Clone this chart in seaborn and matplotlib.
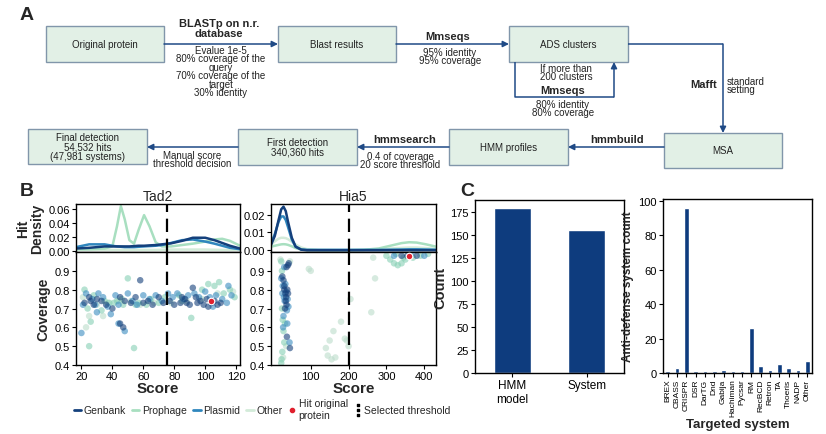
import numpy as np
import pandas as pd
import matplotlib
matplotlib.use("Agg")
import matplotlib.pyplot as plt
from matplotlib.patches import Rectangle
from matplotlib.lines import Line2D
import seaborn as sns

sns.set_theme(style="ticks")
plt.rcParams['font.family'] = ['Liberation Sans', 'DejaVu Sans']

# ---------------- data ----------------
SOURCES = ["Genbank", "Prophage", "Plasmid", "Other"]
PALETTE = {"Genbank": "#14407c", "Prophage": "#a8dfc0", "Plasmid": "#2f86bd", "Other": "#d3ebd9"}
PT_PALETTE = {"Genbank": "#143f7a", "Prophage": "#86d0b4", "Plasmid": "#3a8cc0", "Other": "#bcdccb"}

# Tad2 hit density
TAD2_X = [16.5, 25, 35, 40, 43, 45.5, 48, 51, 54, 57, 60.5, 64, 68, 72, 78, 85, 92, 100, 106, 111, 116, 122.5]
TAD2_GENBANK = [0.003, 0.004, 0.006, 0.006, 0.006, 0.006, 0.006, 0.006, 0.0065, 0.007, 0.007, 0.0075, 0.008, 0.009,
                0.0105, 0.014, 0.0185, 0.0185, 0.015, 0.011, 0.007, 0.003]
TAD2_PROPHAGE = [0.002, 0.002, 0.003, 0.006, 0.035, 0.064, 0.045, 0.015, 0.010, 0.030, 0.051, 0.035, 0.012, 0.006,
                 0.006, 0.008, 0.010, 0.013, 0.016, 0.017, 0.014, 0.007]
TAD2_PLASMID = [0.005, 0.009, 0.009, 0.007, 0.006, 0.0055, 0.005, 0.005, 0.005, 0.0055, 0.006, 0.0065, 0.007, 0.008,
                0.011, 0.015, 0.016, 0.013, 0.010, 0.007, 0.004, 0.002]
TAD2_OTHER = [0.001, 0.001, 0.001, 0.001, 0.001, 0.001, 0.001, 0.001, 0.001, 0.001, 0.001, 0.001, 0.001, 0.0012,
              0.0015, 0.0015, 0.0015, 0.0015, 0.0012, 0.001, 0.001, 0.001]

# Hia5 hit density
HIA5_X = [-5, 5, 15, 22, 28, 34, 40, 50, 60, 75, 90, 120, 160, 200, 240, 280, 310, 340, 360, 380, 405, 431]
HIA5_GENBANK = [0.003, 0.008, 0.017, 0.023, 0.0245, 0.022, 0.016, 0.007, 0.002, 0.0003, 0.0, 0.0, 0.0, 0.0, 0.0,
                0.0, 0.0, 0.0, 0.0, 0.0, 0.0, 0.0]
HIA5_PLASMID = [0.004, 0.009, 0.016, 0.019, 0.019, 0.017, 0.013, 0.006, 0.002, 0.0004, 0.0002, 0.0002, 0.0002,
                0.0002, 0.0002, 0.0002, 0.0003, 0.0004, 0.0005, 0.0005, 0.0004, 0.0003]
HIA5_PROPHAGE = [0.002, 0.0025, 0.003, 0.0033, 0.0034, 0.0033, 0.003, 0.0022, 0.0012, 0.0004, 0.0001, 0.0, 0.0,
                 0.0, 0.0002, 0.001, 0.0025, 0.004, 0.0045, 0.0043, 0.0033, 0.002]
HIA5_OTHER = [0.003, 0.005, 0.0065, 0.007, 0.007, 0.0068, 0.0062, 0.0048, 0.0032, 0.0015, 0.0006, 0.0002, 0.0001,
              0.0001, 0.0002, 0.0005, 0.001, 0.0013, 0.0015, 0.0015, 0.0012, 0.0008]

# Tad2 hits (score, coverage)
TAD2_PTS_GENBANK = [(22, 0.73), (25, 0.76), (28, 0.72), (30, 0.75), (33, 0.74), (36, 0.72), (40, 0.70), (45, 0.76),
                    (48, 0.74), (52, 0.73), (55, 0.76), (58, 0.85), (60, 0.73), (63, 0.74), (66, 0.72), (70, 0.76),
                    (73, 0.73), (77, 0.74), (80, 0.72), (84, 0.73), (87, 0.75), (90, 0.72), (92, 0.81), (95, 0.73),
                    (97, 0.74), (99, 0.72), (101, 0.75), (104, 0.73), (106, 0.74), (108, 0.72), (110, 0.73),
                    (45, 0.62), (47, 0.60), (26, 0.74), (85, 0.76), (88, 0.73), (94, 0.76), (102, 0.71)]
TAD2_PTS_PLASMID = [(21, 0.72), (23, 0.78), (27, 0.75), (29, 0.72), (31, 0.78), (34, 0.76), (37, 0.71), (39, 0.67),
                    (42, 0.77), (44, 0.72), (50, 0.78), (53, 0.74), (56, 0.72), (60, 0.77), (64, 0.75), (68, 0.77),
                    (72, 0.74), (76, 0.78), (79, 0.76), (82, 0.78), (86, 0.75), (89, 0.77), (93, 0.78), (96, 0.76),
                    (100, 0.79), (103, 0.76), (107, 0.77), (111, 0.75), (114, 0.73), (117, 0.77), (44, 0.62),
                    (20, 0.57), (30, 0.68), (48, 0.58), (115, 0.82), (105, 0.71)]
TAD2_PTS_PROPHAGE = [(22, 0.80), (24, 0.70), (26, 0.63), (28, 0.77), (35, 0.74), (41, 0.73), (43, 0.74), (46, 0.75),
                     (47, 0.72), (50, 0.86), (54, 0.49), (57, 0.73), (62, 0.72), (65, 0.75), (70, 0.73), (74, 0.76),
                     (83, 0.77), (91, 0.65), (98, 0.80), (102, 0.83), (106, 0.82), (109, 0.84), (112, 0.78),
                     (116, 0.80), (119, 0.76), (25, 0.50), (33, 0.69), (38, 0.73), (55, 0.72), (85, 0.74)]
TAD2_PTS_OTHER = [(21, 0.76), (23, 0.60), (25, 0.66), (30, 0.72), (37, 0.73), (44, 0.74), (52, 0.74), (58, 0.72),
                  (67, 0.73), (78, 0.73), (88, 0.74), (98, 0.75), (108, 0.78), (118, 0.79), (34, 0.66)]
TAD2_ORIGINAL = (104, 0.74)

# Hia5 hits
HIA5_PTS_GENBANK = [(25, 0.87), (28, 0.85), (30, 0.80), (33, 0.78), (35, 0.76), (38, 0.80), (40, 0.93), (42, 0.94),
                    (36, 0.72), (32, 0.70), (40, 0.78), (30, 0.82), (34, 0.74), (45, 0.49), (37, 0.55), (36, 0.92),
                    (355, 0.98), (380, 0.98), (340, 0.98)]
HIA5_PTS_PLASMID = [(22, 0.86), (26, 0.82), (29, 0.76), (31, 0.74), (33, 0.83), (35, 0.79), (37, 0.69), (39, 0.75),
                    (41, 0.71), (28, 0.66), (25, 0.78), (30, 0.92), (44, 0.52), (38, 0.62), (27, 0.60),
                    (320, 0.98), (365, 0.99), (400, 0.98)]
HIA5_PTS_PROPHAGE = [(22, 0.95), (24, 0.90), (26, 0.64), (28, 0.58), (30, 0.52), (25, 0.47), (23, 0.43), (22, 0.41),
                     (32, 0.62), (24, 0.70), (320, 0.94), (330, 0.93), (340, 0.94), (310, 0.96), (345, 0.97),
                     (370, 0.97), (390, 0.98), (410, 0.99), (300, 0.98), (325, 0.99), (350, 0.96)]
HIA5_PTS_OTHER = [(20, 0.96), (45, 0.95), (95, 0.91), (100, 0.90), (140, 0.49), (145, 0.45), (160, 0.58),
                  (150, 0.53), (165, 0.44), (180, 0.63), (195, 0.53), (200, 0.50), (205, 0.75), (260, 0.68),
                  (265, 0.97), (270, 0.86), (155, 0.43), (190, 0.54), (27, 0.44), (35, 0.50)]
HIA5_ORIGINAL = (360, 0.98)

THRESH_TAD2 = 75
THRESH_HIA5 = 200

# Panel C
C_CATS = ["HMM\nmodel", "System"]
C_COUNTS = [179, 155]
SYS_CATS = ["BREX", "CBASS", "CRISPR", "DSR", "DarTG", "Dnd", "Gabija", "Hachiman", "Pycsar", "RM", "RecBCD",
            "Retron", "TA", "Thoeris", "NADP", "Other"]
SYS_COUNTS = [1, 3, 96, 1, 1, 1, 1.5, 1, 1, 26, 4, 2, 5, 3, 2, 7]

# ---------------- figure ----------------
W, H = 826, 435
fig = plt.figure(figsize=(W / 100, H / 100), dpi=100)


def rect(x0, y0, x1, y1):
    return [x0 / W, 1 - y1 / H, (x1 - x0) / W, (y1 - y0) / H]


ov = fig.add_axes([0, 0, 1, 1])
ov.set_xlim(0, W)
ov.set_ylim(H, 0)
ov.axis("off")
ov.patch.set_visible(False)

# ---------- Panel A (flowchart) ----------
BOX_FC = "#e2f0e6"
BOX_EC = "#8196aa"
ARW = "#1f4a86"
boxes = [
    ((46, 27, 164, 63), "Original protein"),
    ((278, 27, 396, 63), "Blast results"),
    ((509, 27, 628, 63), "ADS clusters"),
    ((664, 134, 782, 169), "MSA"),
    ((449, 130, 568, 166), "HMM profiles"),
    ((238, 130, 357, 166), "First detection\n340,360 hits"),
    ((28, 130, 147, 165), "Final detection\n54,532 hits\n(47,981 systems)"),
]
for (x0, y0, x1, y1), label in boxes:
    ov.add_patch(Rectangle((x0, y0), x1 - x0, y1 - y0, fc=BOX_FC, ec=BOX_EC, lw=1.0))
    ov.text((x0 + x1) / 2, (y0 + y1) / 2, label, ha="center", va="center", fontsize=7, linespacing=0.95,
            color="#222222")


def arrow(pts):
    xs = [p[0] for p in pts]
    ys = [p[1] for p in pts]
    if len(pts) > 2:
        ov.plot(xs[:-1], ys[:-1], color=ARW, lw=1.1, solid_capstyle="butt")
    ov.annotate("", xy=pts[-1], xytext=pts[-2],
                arrowprops=dict(arrowstyle="-|>", color=ARW, lw=1.1, mutation_scale=9, shrinkA=0, shrinkB=0))


arrow([(164, 45), (278, 45)])
arrow([(396, 45), (509, 45)])
arrow([(628, 45), (723, 45), (723, 134)])
arrow([(515, 63), (515, 98), (614, 98), (614, 63)])
arrow([(664, 148), (568, 148)])
arrow([(449, 148), (357, 148)])
arrow([(238, 148), (147, 148)])

small = dict(fontsize=7, color="#222222", linespacing=0.8)
ov.text(219, 29, "BLASTp on n.r.\ndatabase", ha="center", va="center", fontsize=8, fontweight="bold",
        linespacing=0.95)
ov.text(221, 72, "Evalue 1e-5\n80% coverage of the\nquery\n70% coverage of the\ntarget\n30% identity",
        ha="center", va="center", **small)
ov.text(448, 37, "Mmseqs", ha="center", va="center", fontsize=8, fontweight="bold")
ov.text(450, 57, "95% identity\n95% coverage", ha="center", va="center", **small)
ov.text(566, 73, "If more than\n200 clusters", ha="center", va="center", **small)
ov.text(563, 91, "Mmseqs", ha="center", va="center", fontsize=8, fontweight="bold")
ov.text(563, 109, "80% identity\n80% coverage", ha="center", va="center", **small)
ov.text(704, 85, "Mafft", ha="center", va="center", fontsize=8, fontweight="bold")
ov.text(727, 86, "standard\nsetting", ha="left", va="center", **small)
ov.text(617, 140, "hmmbuild", ha="center", va="center", fontsize=8, fontweight="bold")
ov.text(405, 140, "hmmsearch", ha="center", va="center", fontsize=8, fontweight="bold")
ov.text(400, 161, "0.4 of coverage\n20 score threshold", ha="center", va="center", **small)
ov.text(192, 160, "Manual score\nthreshold decision", ha="center", va="center", **small)

for lbl, x, y in [("A", 27, 15), ("B", 27, 192), ("C", 467, 192)]:
    ov.text(x, y, lbl, ha="center", va="center", fontsize=14, fontweight="bold")


# ---------- Panel B ----------
def dens_df(xs, series):
    rows = []
    for name, vals in series.items():
        for x, v in zip(xs, vals):
            rows.append((name, x, v))
    return pd.DataFrame(rows, columns=["source", "score", "density"])


def pts_df(series):
    rows = []
    for name, pts in series.items():
        for x, y in pts:
            rows.append((name, x, y))
    return pd.DataFrame(rows, columns=["source", "score", "coverage"])


def style_axes(ax):
    for s in ax.spines.values():
        s.set_visible(True)
        s.set_color("black")
        s.set_linewidth(1.0)
    ax.tick_params(axis="both", labelsize=8, length=3, width=0.8, pad=1.5, colors="black")


panels = [
    dict(name="Tad2", rect_top=rect(76, 205, 240, 253), rect_bot=rect(76, 253, 240, 366),
         dens=dens_df(TAD2_X, {"Other": TAD2_OTHER, "Prophage": TAD2_PROPHAGE, "Plasmid": TAD2_PLASMID,
                               "Genbank": TAD2_GENBANK}),
         pts=pts_df({"Other": TAD2_PTS_OTHER, "Prophage": TAD2_PTS_PROPHAGE, "Plasmid": TAD2_PTS_PLASMID,
                     "Genbank": TAD2_PTS_GENBANK}),
         orig=TAD2_ORIGINAL, thr=THRESH_TAD2, xlim=(16.5, 122.5), xticks=[20, 40, 60, 80, 100, 120],
         ylim_top=(-0.002, 0.067), yticks_top=[0.0, 0.02, 0.04, 0.06], first=True),
    dict(name="Hia5", rect_top=rect(271, 205, 436, 253), rect_bot=rect(271, 253, 436, 366),
         dens=dens_df(HIA5_X, {"Other": HIA5_OTHER, "Prophage": HIA5_PROPHAGE, "Plasmid": HIA5_PLASMID,
                               "Genbank": HIA5_GENBANK}),
         pts=pts_df({"Other": HIA5_PTS_OTHER, "Prophage": HIA5_PTS_PROPHAGE, "Plasmid": HIA5_PTS_PLASMID,
                     "Genbank": HIA5_PTS_GENBANK}),
         orig=HIA5_ORIGINAL, thr=THRESH_HIA5, xlim=(-5, 431), xticks=[100, 200, 300, 400],
         ylim_top=(-0.001, 0.026), yticks_top=[0.0, 0.01, 0.02], first=False),
]

for p in panels:
    axt = fig.add_axes(p["rect_top"])
    axb = fig.add_axes(p["rect_bot"])
    sns.lineplot(data=p["dens"], x="score", y="density", hue="source", palette=PALETTE, estimator=None,
                 sort=True, lw=1.8, ax=axt, legend=False)
    axt.axvline(p["thr"], color="black", lw=1.6, dashes=(6, 3))
    axt.set_xlim(*p["xlim"])
    axt.set_ylim(*p["ylim_top"])
    axt.set_yticks(p["yticks_top"])
    axt.set_yticklabels([f"{v:.2f}" for v in p["yticks_top"]])
    axt.set_xticks(p["xticks"])
    axt.tick_params(axis="x", labelbottom=False, length=0)
    axt.set_xlabel("")
    axt.set_title(p["name"], fontsize=10, pad=3)
    style_axes(axt)

    sns.scatterplot(data=p["pts"], x="score", y="coverage", hue="source", palette=PT_PALETTE, s=22,
                    alpha=0.6, linewidth=0, ax=axb, legend=False)
    axb.scatter([p["orig"][0]], [p["orig"][1]], s=22, color="#e0202e", edgecolor="white", linewidth=0.8,
                zorder=5)
    axb.axvline(p["thr"], color="black", lw=1.6, dashes=(6, 3))
    axb.set_xlim(*p["xlim"])
    axb.set_ylim(0.4, 1.0)
    axb.set_yticks([0.4, 0.5, 0.6, 0.7, 0.8, 0.9])
    axb.set_yticklabels([f"{v:.1f}" for v in [0.4, 0.5, 0.6, 0.7, 0.8, 0.9]])
    axb.set_xticks(p["xticks"])
    axb.set_xlabel("Score", fontsize=11, fontweight="bold", labelpad=0)
    style_axes(axb)
    if p["first"]:
        axt.set_ylabel("Hit\nDensity", fontsize=10, fontweight="bold", linespacing=1.0, labelpad=3)
        axb.set_ylabel("Coverage", fontsize=10, fontweight="bold", labelpad=3)
    else:
        axt.set_ylabel("")
        axb.set_ylabel("")

handles = [Line2D([], [], color=PALETTE[s], lw=2) for s in SOURCES]
labels = list(SOURCES)
handles.append(Line2D([], [], color="#e0202e", marker="o", ls="none", markersize=3))
labels.append("Hit original\nprotein")
handles.append(Line2D([], [], color="black", marker="$\\vdots$", ls="none", markersize=9))
labels.append("Selected threshold")
fig.legend(handles, labels, loc="center", bbox_to_anchor=(262 / W, 1 - 410 / H), ncol=6, frameon=False,
           fontsize=7.5, handlelength=0.7, handletextpad=0.25, columnspacing=0.6, borderaxespad=0,
           handleheight=0.5)

# ---------- Panel C ----------
BAR = "#0e3c7e"
axc1 = fig.add_axes(rect(475, 201, 624, 374))
sns.barplot(x=C_CATS, y=C_COUNTS, color=BAR, width=0.49, ax=axc1, saturation=1)
axc1.set_ylim(0, 188)
axc1.set_yticks([0, 25, 50, 75, 100, 125, 150, 175])
axc1.set_ylabel("Count", fontsize=10.5, fontweight="bold", labelpad=2)
style_axes(axc1)
axc1.tick_params(axis="x", labelsize=8.5)

axc2 = fig.add_axes(rect(663, 200, 812, 374))
sns.barplot(x=SYS_CATS, y=SYS_COUNTS, color=BAR, width=0.5, ax=axc2, saturation=1)
axc2.set_ylim(0, 101)
axc2.set_yticks([0, 20, 40, 60, 80, 100])
axc2.set_ylabel("Anti-defense system count", fontsize=8.5, fontweight="bold", labelpad=3)
axc2.set_xlabel("Targeted system", fontsize=9.5, fontweight="bold", va="center")
axc2.xaxis.set_label_coords(0.5, -(425 - 374) / 174)
style_axes(axc2)
axc2.tick_params(axis="x", labelrotation=90, labelsize=6.0, pad=1)

fig.savefig("out.png", dpi=100)
